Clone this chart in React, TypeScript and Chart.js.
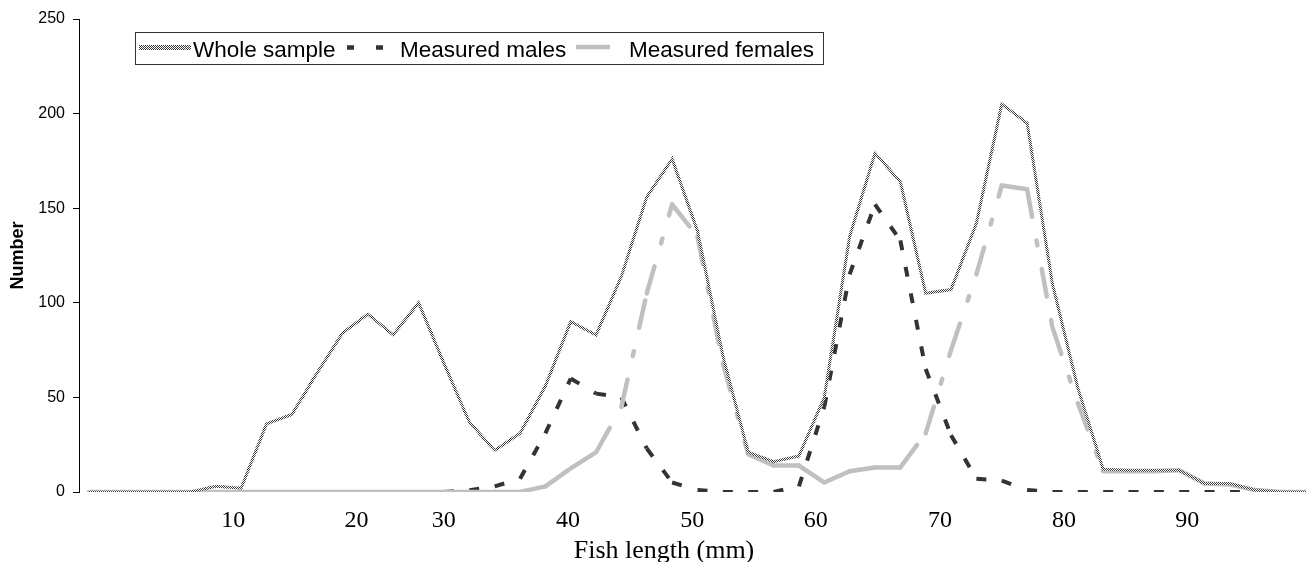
import React, { useEffect, useRef } from "react";
import { Chart, registerables } from "chart.js";

Chart.register(...registerables);

// Length bins (category index along the x axis, one per 2 mm class)
const binIndex = [
  0, 1, 2, 3, 4, 5, 6, 7, 8, 9, 10, 11, 12, 13, 14, 15, 16, 17, 18, 19, 20, 21, 22, 23, 24,
  25, 26, 27, 28, 29, 30, 31, 32, 33, 34, 35, 36, 37, 38, 39, 40, 41, 42, 43, 44, 45, 46, 47, 48,
];

// Where the length labels sit along the bin axis, and their text
const xTickPositions = [5.69, 10.55, 13.99, 18.89, 23.79, 28.66, 33.56, 38.46, 43.32];
const xTickLabels = ["10", "20", "30", "40", "50", "60", "70", "80", "90"];

const seriesNames = ["Whole sample", "Measured males", "Measured females"];

const wholeSample = [
  0, 0, 0, 0, 0, 3, 2, 36, 41, 63, 84, 94, 83, 100, 68, 37, 22, 31, 56, 90, 83, 114, 156, 176, 138,
  72, 21, 16, 19, 50, 135, 179, 164, 105, 107, 142, 205, 195, 110, 55, 12, 11.5, 11.5, 11.5, 4.5, 4.5, 1, 0, 0,
];

const measuredMales = [
  0, 0, 0, 0, 0, 0, 0, 0, 0, 0, 0, 0, 0, 0, 0, 1, 3, 7, 31, 60, 52, 50, 23, 5, 1,
  0, 0, 0, 3, 45, 115, 152, 133, 65, 30, 7, 6, 1, 0, 0, 0, 0, 0, 0, 0, 0, 0, 0, 0,
];

const measuredFemales = [
  0, 0, 0, 0, 0, 0, 0, 0, 0, 0, 0, 0, 0, 0, 0, 0, 0, 0, 3, 12.5, 21, 45, 105, 152, 135,
  68, 20, 14, 14, 5, 11, 13, 13, 31, 75, 115, 162, 160, 87, 47, 11, 11, 11, 11.5, 4.5, 4, 1, 0, 0,
];

const yAxisTitle = "Number";
const xAxisTitle = "Fish length (mm)";

const SANS = "'Liberation Sans', Arial, sans-serif";
const SERIF = "'Liberation Serif', 'Times New Roman', serif";

export default function App() {
  const ref = useRef<HTMLCanvasElement>(null);

  useEffect(() => {
    document.body.style.margin = "0";
    const canvas = ref.current!;
    const ctx = canvas.getContext("2d")!;

    // checkered pattern for the "whole sample" line
    const pc = document.createElement("canvas");
    pc.width = 2;
    pc.height = 2;
    const pctx = pc.getContext("2d")!;
    pctx.fillStyle = "#ffffff";
    pctx.fillRect(0, 0, 2, 2);
    pctx.fillStyle = "#3a3a3a";
    pctx.fillRect(0, 0, 1, 1);
    pctx.fillRect(1, 1, 1, 1);
    const pattern = ctx.createPattern(pc, "repeat")!;

    const toXY = (arr: number[]) => arr.map((y, i) => ({ x: binIndex[i], y }));
    // restart the dash pattern at every vertex (alternate a negligible offset)
    const restart = (c: any) => (c.p0DataIndex % 2 === 0 ? 0 : 0.0001);

    const overlay = {
      id: "boxLegend",
      afterDraw(chart: any) {
        const c = chart.ctx as CanvasRenderingContext2D;
        c.save();
        c.fillStyle = "#ffffff";
        c.fillRect(135, 32, 688, 32);
        c.strokeStyle = "#333333";
        c.lineWidth = 1;
        c.strokeRect(135.5, 32.5, 688, 32);

        c.lineCap = "butt";
        c.strokeStyle = pattern;
        c.lineWidth = 5;
        c.beginPath();
        c.moveTo(139, 47.5);
        c.lineTo(191, 47.5);
        c.stroke();

        c.strokeStyle = "#333333";
        c.lineWidth = 4.5;
        c.setLineDash([7, 22]);
        c.beginPath();
        c.moveTo(347, 47.5);
        c.lineTo(384, 47.5);
        c.stroke();
        c.setLineDash([]);

        c.strokeStyle = "#c0c0c0";
        c.lineWidth = 4.5;
        c.beginPath();
        c.moveTo(576, 47);
        c.lineTo(610, 47);
        c.stroke();

        c.fillStyle = "#000000";
        c.font = `22.5px ${SANS}`;
        c.textBaseline = "alphabetic";
        c.textAlign = "left";
        c.fillText(seriesNames[0], 193, 57);
        c.fillText(seriesNames[1], 400, 57);
        c.fillText(seriesNames[2], 629, 57);

        c.font = `26px ${SERIF}`;
        c.textAlign = "center";
        c.fillText(xAxisTitle, 664, 558);
        c.restore();
      },
    };

    const chart = new Chart(canvas, {
      type: "line",
      data: {
        datasets: [
          {
            label: seriesNames[0],
            data: toXY(wholeSample),
            borderColor: pattern as any,
            borderWidth: 3,
            pointRadius: 0,
            tension: 0,
            order: 0,
          },
          {
            label: seriesNames[2],
            data: toXY(measuredFemales),
            borderColor: "#c0c0c0",
            borderWidth: 4.5,
            borderDash: [28, 24, 5, 24],
            borderCapStyle: "round",
            pointRadius: 0,
            tension: 0,
            order: 1,
            segment: { borderDashOffset: restart },
          },
          {
            label: seriesNames[1],
            data: toXY(measuredMales),
            borderColor: "#333333",
            borderWidth: 4,
            borderDash: [10, 17],
            borderCapStyle: "butt",
            pointRadius: 0,
            tension: 0,
            order: 2,
            segment: { borderDashOffset: restart },
          },
        ],
      },
      options: {
        responsive: false,
        animation: false,
        events: [],
        layout: { padding: { top: 19, right: 0, left: 0, bottom: 0 } },
        plugins: {
          legend: { display: false },
          tooltip: { enabled: false },
        },
        scales: {
          x: {
            type: "linear",
            min: -0.394,
            max: 48,
            afterBuildTicks: (s: any) => {
              s.ticks = xTickPositions.map((v) => ({ value: v }));
            },
            afterFit: (s: any) => {
              s.height = 70;
            },
            ticks: {
              autoSkip: false,
              maxRotation: 0,
              padding: 14,
              color: "#000000",
              font: { family: SERIF, size: 24 },
              callback: (_v: any, i: number) => xTickLabels[i],
            },
            grid: { display: false, drawTicks: false },
            border: { display: false },
          },
          y: {
            min: 0,
            max: 250,
            afterFit: (s: any) => {
              s.width = 79;
            },
            ticks: {
              stepSize: 50,
              padding: 8,
              color: "#000000",
              font: { family: SANS, size: 16 },
            },
            grid: {
              drawOnChartArea: false,
              drawTicks: true,
              tickLength: 6,
              color: "#000000",
              tickColor: "#000000",
              tickWidth: 1,
            },
            border: { display: true, color: "#000000", width: 1 },
            title: {
              display: true,
              text: yAxisTitle,
              color: "#000000",
              font: { family: SANS, size: 18, weight: "bold" },
              padding: { top: 7, bottom: 0 },
            },
          },
        },
      } as any,
      plugins: [overlay],
    });

    return () => chart.destroy();
  }, []);

  return (
    <div style={{ width: 1306, height: 562 }}>
      <canvas ref={ref} width={1306} height={562} style={{ display: "block" }} />
    </div>
  );
}
